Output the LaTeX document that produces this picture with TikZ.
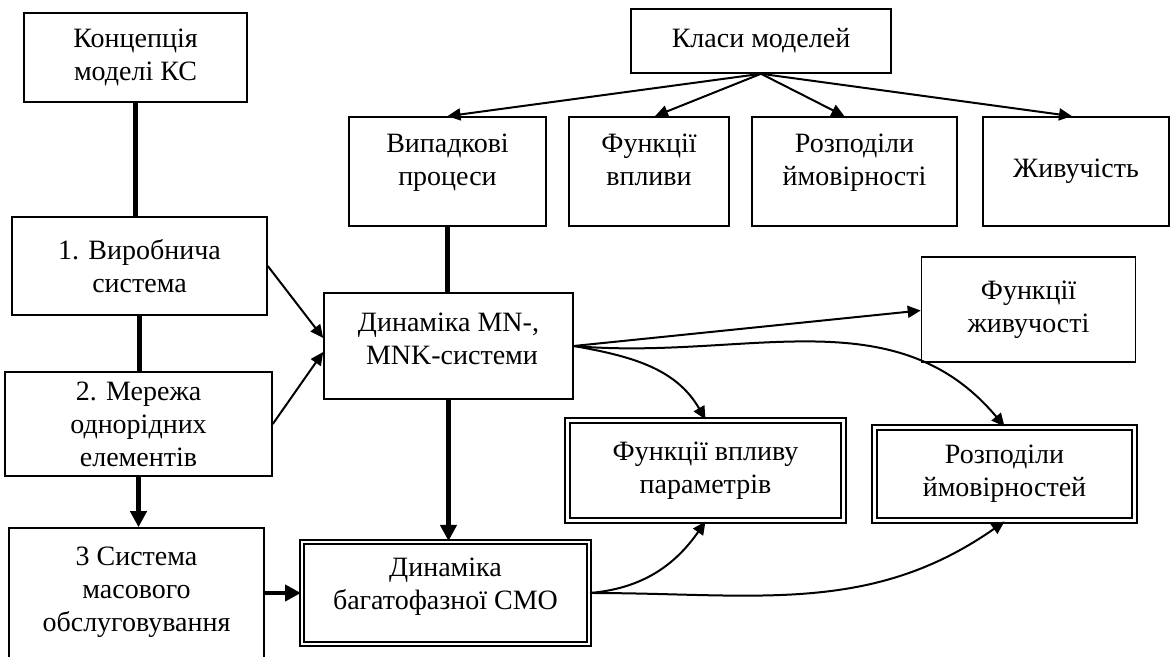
\documentclass[tikz,border=0pt]{standalone}
\usepackage{fontspec}
\setmainfont{Liberation Serif}
\usetikzlibrary{positioning, arrows.meta}
\tikzstyle{box} = [rectangle, draw=black, line width=0.8pt, align=center]
\tikzstyle{dbox} = [rectangle, draw=black, line width=1pt, double, double distance=1.2pt, align=center]
\tikzstyle{arrow} = [line width=1pt, -{Triangle[length=6.5pt,width=6pt]}]
\tikzstyle{thickline} = [line width=2.2pt]
\tikzstyle{thickarrow} = [line width=2.2pt, -{Triangle[length=8pt,width=8pt]}]
\tikzstyle{every node}=[font=\fontsize{14pt}{16.5pt}\selectfont]

\begin{document}
\begin{tikzpicture}[x=0.5pt, y=0.5pt]
			\clip (0,0) rectangle (1172,657);
			%блоки лівої колонки
			\node (conc) [box, minimum width=111.5pt, minimum height=44.5pt] at (135.5,599.5) {Концепція\\моделі КС};
			\node (sys1) [box, minimum width=127.5pt, minimum height=49pt] at (139.5,391) {1. Виробнича\\система};
			\node (sys2) [box, minimum width=133.5pt, minimum height=52pt] at (138.5,233) {2. Мережа\\однорідних\\елементів};
			\node (sys3) [box, minimum width=127.5pt, minimum height=86pt, text depth=24.3pt] at (136.5,43) {3 Система\\масового\\обслуговування};
			
			%класи моделей
			\node (cls) [box, minimum width=130pt, minimum height=32pt] at (761,616) {Класи моделей};
			\node (rp) [box, minimum width=98.5pt, minimum height=54.5pt, text depth=11.3pt] at (447.5,485.5) {Випадкові\\процеси};
			\node (fv) [box, minimum width=80pt, minimum height=54.5pt, text depth=11.3pt] at (649,485.5) {Функції\\впливи};
			\node (rv) [box, minimum width=102.5pt, minimum height=54.5pt, text depth=11.3pt] at (854.5,485.5) {Розподіли\\ймовірності};
			\node (zh) [box, minimum width=93pt, minimum height=54.5pt] at (1076,485.5) {Живучість};
			
			%динаміка та результати
			\node (mn) [box, minimum width=124.5pt, minimum height=53pt, text depth=7.5pt] at (448.5,311) {Динаміка MN-,\\\ MNK-системи};
			\node (fzh) [box, minimum width=107pt, minimum height=52.5pt] at (1028.5,347.5) {Функції\\живучості};
			\node (smo) [dbox, minimum width=143.5pt, minimum height=51pt, text depth=9.3pt] at (445.5,64) {Динаміка\\багатофазної СМО};
			\node (fvp) [dbox, minimum width=138pt, minimum height=50pt] at (705.5,186.5) {Функції впливу\\параметрів};
			\node (rim) [dbox, minimum width=130pt, minimum height=46.5pt] at (1004.5,183) {Розподіли\\ймовірностей};
			
			%з'єднання блоків
			\draw [thickline] (conc.south) -- (conc.south |- sys1.north);
			\draw [thickline] (sys1.south) -- (sys1.south |- sys2.north);
			\draw [thickarrow] (sys2.south) -- (sys2.south |- sys3.north);
			\draw [thickarrow] (sys3.east |- smo.west) -- (smo.west);
			\draw [arrow] (sys1.east) -- ([yshift=4pt]mn.west);
			\draw [arrow] (sys2.east) -- ([yshift=-3pt]mn.west);
			\draw [arrow] (cls.south) -- (rp.north);
			\draw [arrow] (cls.south) -- ([xshift=3pt]fv.north);
			\draw [arrow] (cls.south) -- ([xshift=-5pt]rv.north);
			\draw [arrow] (cls.south) -- ([xshift=-2pt]zh.north);
			\draw [thickline] (rp.south) -- (rp.south |- mn.north);
			\draw [thickarrow] (mn.south) -- (mn.south |- smo.north);
			\draw [arrow] (mn.east) -- ([yshift=-0.5pt]fzh.west);
			\draw [arrow] (mn.east) to[out=-10, in=120] (fvp.north);
			\draw [arrow] (mn.east) to[out=-5, in=130] (rim.north);
			\draw [arrow] (smo.east) to[out=5, in=-125] (fvp.south);
			\draw [arrow] (smo.east) to[out=0, in=-145] (rim.south);
		\end{tikzpicture}
\end{document}
